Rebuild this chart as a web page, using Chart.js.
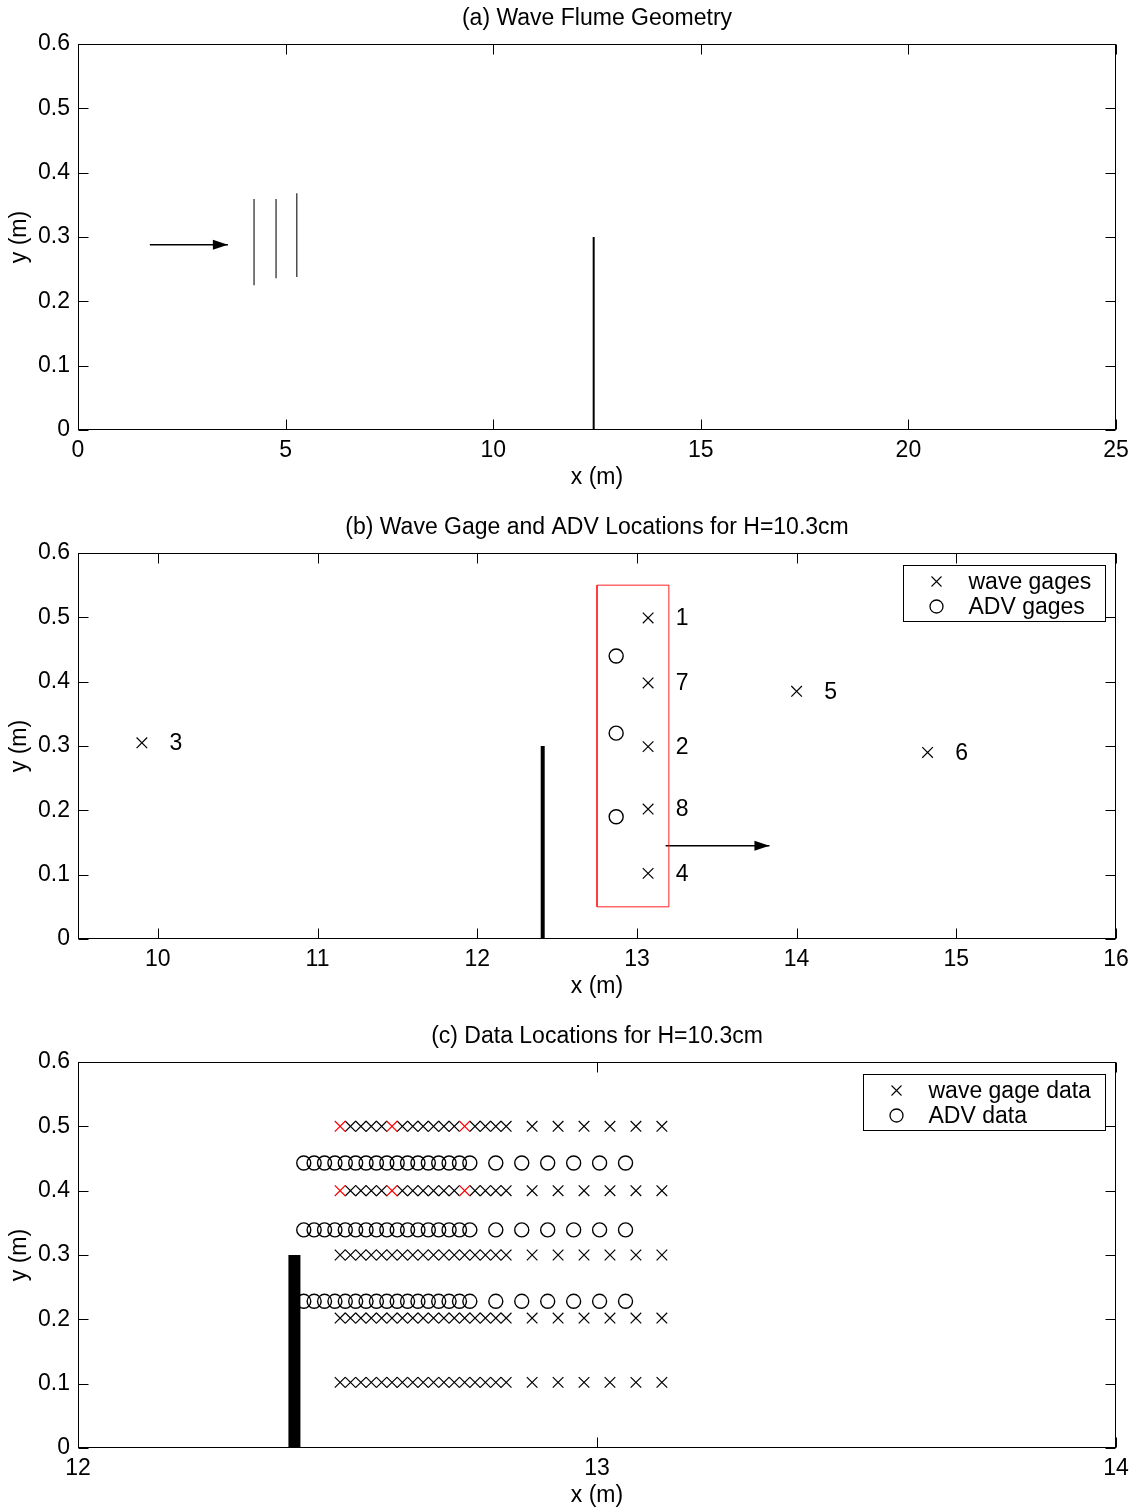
<!DOCTYPE html>
<html>
<head>
<meta charset="utf-8">
<script src="https://cdn.jsdelivr.net/npm/chart.js@4/dist/chart.umd.min.js"></script>
<style>
  body { margin: 0; background: #fff; width: 1136px; height: 1510px; overflow: hidden; position: relative; }
  .panel { position: absolute; left: 0; width: 1136px; height: 509px; }
</style>
</head>
<body>
<div class="panel" style="top:0"><canvas id="flume"></canvas></div>
<div class="panel" style="top:509px"><canvas id="gages"></canvas></div>
<div class="panel" style="top:1018px"><canvas id="dataLocs"></canvas></div>
<script>
// ---- axis ticks ----
const yTicks = [0, 0.1, 0.2, 0.3, 0.4, 0.5, 0.6];
const flumeTicksX = [0, 5, 10, 15, 20, 25];
const gageTicksX = [10, 11, 12, 13, 14, 15, 16];
const dataTicksX = [12, 13, 14];

// ---- (a) wave flume geometry ----
const flumeArrowX = [1.73, 3.61];
const flumeArrowY = [0.288, 0.288];
const crestX = [4.24, 4.77, 5.27];
const crestBottom = [0.225, 0.236, 0.238];
const crestTop = [0.359, 0.359, 0.368];
const breakwaterX = [12.42, 12.41, 12.417];
const breakwaterTop = 0.3;

// ---- (b) wave gage and ADV locations ----
const gageNames = ["1", "7", "2", "8", "4", "3", "5", "6"];
const gageX = [13.07, 13.07, 13.07, 13.07, 13.07, 9.9, 14.0, 14.82];
const gageY = [0.499, 0.398, 0.299, 0.202, 0.102, 0.305, 0.385, 0.29];
const advX = [12.87, 12.87, 12.87];
const advY = [0.44, 0.32, 0.19];
const boxX = [12.75, 13.2, 13.2, 12.75, 12.75];
const boxY = [0.05, 0.05, 0.55, 0.55, 0.05];
const gageArrowX = [13.18, 13.83];
const gageArrowY = [0.145, 0.145];

// ---- (c) data locations ----
const gageDataX = [12.505, 12.525, 12.545, 12.565, 12.585, 12.605, 12.625, 12.645, 12.665,
  12.685, 12.705, 12.725, 12.745, 12.765, 12.785, 12.805, 12.825,
  12.875, 12.925, 12.975, 13.025, 13.075, 13.125];
const gageDataRows = [0.5, 0.4, 0.3, 0.202, 0.102];
const redGageX = [12.505, 12.605, 12.745];
const redGageRows = [0.5, 0.4];
const advDataX = [12.435, 12.455, 12.475, 12.495, 12.515, 12.535, 12.555, 12.575, 12.595,
  12.615, 12.635, 12.655, 12.675, 12.695, 12.715, 12.735, 12.755,
  12.805, 12.855, 12.905, 12.955, 13.005, 13.055];
const advDataRows = [0.443, 0.339, 0.228];

const FONT = { family: '"Liberation Sans", Arial, Helvetica, sans-serif', size: 23 };
const FONT_CSS = '23px "Liberation Sans", Arial, Helvetica, sans-serif';

function pts(xs, ys) {
  return xs.map((x, i) => ({ x: x, y: ys[i] }));
}

function line(data, width, color, extra) {
  return Object.assign({
    data: data,
    showLine: true,
    borderColor: color || "#000",
    borderWidth: width,
    borderCapStyle: "butt",
    pointRadius: 0,
    fill: false,
  }, extra || {});
}

function markers(data, style, color, extra) {
  const isCircle = style === "circle";
  return Object.assign({
    data: data,
    pointStyle: style,
    pointRadius: isCircle ? 7 : 7.5,
    pointHoverRadius: isCircle ? 7 : 7.5,
    borderWidth: isCircle ? 1.4 : 1.2,
    borderColor: color || "#000",
    backgroundColor: "rgba(0,0,0,0)",
  }, extra || {});
}

function makeAxes(xMin, xMax, xTicks) {
  const common = {
    type: "linear",
    grid: { display: false, drawTicks: false },
    border: { display: false },
  };
  return {
    x: Object.assign({}, common, {
      min: xMin,
      max: xMax,
      afterBuildTicks: (s) => { s.ticks = xTicks.map((v) => ({ value: v })); },
      afterFit: (s) => { s.height = 79; },
      ticks: { color: "#000", font: FONT, padding: 7, maxRotation: 0, autoSkip: false },
      title: { display: true, text: "x (m)", color: "#000", font: FONT, padding: { top: 0, bottom: 18 } },
    }),
    y: Object.assign({}, common, {
      min: 0,
      max: 0.6,
      afterBuildTicks: (s) => { s.ticks = yTicks.map((v) => ({ value: v })); },
      afterFit: (s) => { s.width = 78; },
      ticks: { color: "#000", font: FONT, padding: 8, autoSkip: false },
      title: { display: true, text: "y (m)", color: "#000", font: FONT, padding: { top: 6, bottom: 0 } },
    }),
  };
}

// box around the axes with inward ticks on all four sides
const matlabFrame = {
  id: "matlabFrame",
  afterDraw(chart) {
    const { ctx, chartArea: a, scales } = chart;
    const L = Math.round(a.left) + 0.5, R = Math.round(a.right) - 0.5;
    const T = Math.round(a.top) + 0.5, B = Math.round(a.bottom) - 0.5;
    ctx.save();
    ctx.strokeStyle = "#000";
    ctx.lineWidth = 1;
    ctx.beginPath();
    scales.x.ticks.forEach((t) => {
      const px = Math.round(scales.x.getPixelForValue(t.value)) + 0.5;
      ctx.moveTo(px, B); ctx.lineTo(px, B - 10);
      ctx.moveTo(px, T); ctx.lineTo(px, T + 10);
    });
    scales.y.ticks.forEach((t) => {
      const py = Math.round(scales.y.getPixelForValue(t.value)) + 0.5;
      ctx.moveTo(L, py); ctx.lineTo(L + 10, py);
      ctx.moveTo(R, py); ctx.lineTo(R - 10, py);
    });
    ctx.stroke();
    ctx.strokeRect(L, T, R - L, B - T);
    ctx.restore();
  },
};

// panel title centred over the axes
const panelTitle = {
  id: "panelTitle",
  afterDraw(chart, args, opts) {
    const { ctx, chartArea: a } = chart;
    ctx.save();
    ctx.font = FONT_CSS;
    ctx.fillStyle = "#000";
    ctx.textAlign = "center";
    ctx.textBaseline = "middle";
    ctx.fillText(opts.text, (a.left + a.right) / 2, 19);
    ctx.restore();
  },
};

// filled arrow heads at the end of datasets flagged with arrow:true
const arrowHeads = {
  id: "arrowHeads",
  afterDatasetsDraw(chart) {
    const ctx = chart.ctx;
    chart.data.datasets.forEach((ds, i) => {
      if (!ds.arrow) return;
      const els = chart.getDatasetMeta(i).data;
      const tip = els[els.length - 1];
      ctx.save();
      ctx.fillStyle = "#000";
      ctx.beginPath();
      ctx.moveTo(tip.x, tip.y);
      ctx.lineTo(tip.x - 15, tip.y - 5);
      ctx.lineTo(tip.x - 15, tip.y + 5);
      ctx.closePath();
      ctx.fill();
      ctx.restore();
    });
  },
};

// gage numbers next to their markers
const pointNames = {
  id: "pointNames",
  afterDatasetsDraw(chart) {
    const ctx = chart.ctx;
    chart.data.datasets.forEach((ds, i) => {
      if (!ds.names) return;
      ctx.save();
      ctx.font = FONT_CSS;
      ctx.fillStyle = "#000";
      ctx.textAlign = "center";
      ctx.textBaseline = "middle";
      chart.getDatasetMeta(i).data.forEach((el, j) => {
        ctx.fillText(ds.names[j], el.x + 34, el.y + 1);
      });
      ctx.restore();
    });
  },
};

// boxed legend in the upper right corner
const boxLegend = {
  id: "boxLegend",
  afterDraw(chart, args, opts) {
    if (!opts.items) return;
    const { ctx, chartArea: a } = chart;
    const right = Math.round(a.right) - 10.5;
    const top = Math.round(a.top) + 12.5;
    const left = right - opts.width;
    const h = 56;
    ctx.save();
    ctx.fillStyle = "#fff";
    ctx.fillRect(left, top, opts.width, h);
    ctx.strokeStyle = "#000";
    ctx.lineWidth = 1;
    ctx.strokeRect(left, top, opts.width, h);
    opts.items.forEach((item, k) => {
      const cy = top + 16 + k * 25;
      const cx = left + 33;
      ctx.beginPath();
      if (item.style === "circle") {
        ctx.lineWidth = 1.3;
        ctx.arc(cx, cy, 6.5, 0, Math.PI * 2);
      } else {
        ctx.lineWidth = 1.1;
        ctx.moveTo(cx - 5, cy - 5); ctx.lineTo(cx + 5, cy + 5);
        ctx.moveTo(cx - 5, cy + 5); ctx.lineTo(cx + 5, cy - 5);
      }
      ctx.stroke();
      ctx.font = FONT_CSS;
      ctx.fillStyle = "#000";
      ctx.textAlign = "left";
      ctx.textBaseline = "middle";
      ctx.fillText(item.text, left + 65, cy + 1);
    });
    ctx.restore();
  },
};

function makeChart(id, datasets, axes, title, legend) {
  return new Chart(document.getElementById(id), {
    type: "scatter",
    data: { datasets: datasets },
    options: {
      responsive: true,
      maintainAspectRatio: false,
      animation: false,
      devicePixelRatio: 1,
      layout: { padding: { top: 44, right: 20, bottom: 0, left: 0 } },
      scales: axes,
      plugins: {
        legend: { display: false },
        tooltip: { enabled: false },
        panelTitle: { text: title },
        boxLegend: legend || {},
      },
      events: [],
    },
    plugins: [matlabFrame, panelTitle, arrowHeads, pointNames, boxLegend],
  });
}

// (a)
const flumeSets = [
  line(pts(flumeArrowX, flumeArrowY), 1.5, "#000", { arrow: true }),
  line([{ x: breakwaterX[0], y: 0 }, { x: breakwaterX[0], y: breakwaterTop }], 2),
];
crestX.forEach((x, i) => {
  flumeSets.push(line([{ x: x, y: crestBottom[i] }, { x: x, y: crestTop[i] }], 1.2, "#222"));
});
makeChart("flume", flumeSets, makeAxes(0, 25, flumeTicksX), "(a) Wave Flume Geometry");

// (b)
makeChart("gages", [
  markers(pts(gageX, gageY), "crossRot", "#000", { names: gageNames }),
  markers(pts(advX, advY), "circle"),
  line(pts(boxX, boxY), 1, "#ff2020"),
  line(pts(gageArrowX, gageArrowY), 1.5, "#000", { arrow: true }),
  line([{ x: breakwaterX[1], y: 0 }, { x: breakwaterX[1], y: breakwaterTop }], 4),
], makeAxes(9.5, 16, gageTicksX), "(b) Wave Gage and ADV Locations for H=10.3cm", {
  width: 202,
  items: [{ style: "crossRot", text: "wave gages" }, { style: "circle", text: "ADV gages" }],
});

// (c)
const dataSets = [];
redGageRows.forEach((y) => {
  dataSets.push(markers(redGageX.map((x) => ({ x: x, y: y })), "crossRot", "#ff0000"));
});
gageDataRows.forEach((y) => {
  const xs = redGageRows.includes(y) ? gageDataX.filter((x) => !redGageX.includes(x)) : gageDataX;
  dataSets.push(markers(xs.map((x) => ({ x: x, y: y })), "crossRot"));
});
advDataRows.forEach((y) => {
  dataSets.push(markers(advDataX.map((x) => ({ x: x, y: y })), "circle"));
});
dataSets.push(line([{ x: breakwaterX[2], y: 0 }, { x: breakwaterX[2], y: breakwaterTop }], 12));
makeChart("dataLocs", dataSets, makeAxes(12, 14, dataTicksX), "(c) Data Locations for H=10.3cm", {
  width: 242,
  items: [{ style: "crossRot", text: "wave gage data" }, { style: "circle", text: "ADV data" }],
});
</script>
</body>
</html>
